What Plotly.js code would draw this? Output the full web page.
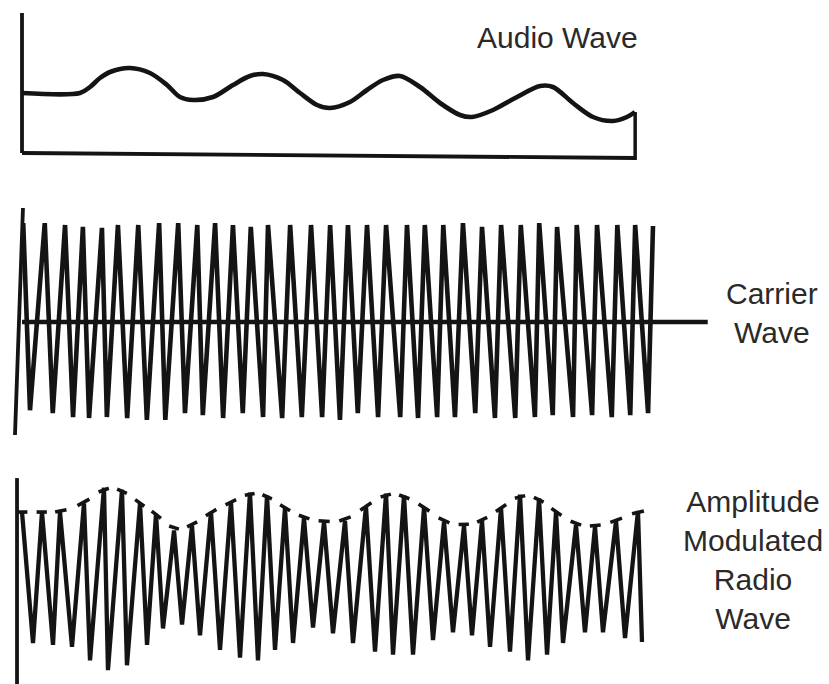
<!DOCTYPE html>
<html>
<head>
<meta charset="utf-8">
<script src="https://cdn.plot.ly/plotly-3.0.1.min.js"></script>
<style>html,body{margin:0;padding:0;background:#fff;}#chart{width:829px;height:684px;}</style>
</head>
<body>
<div id="chart"></div>
<script>
// ---------- DATA (time in arbitrary units, amplitude in arbitrary units) ----------
const audioTime = [0, 9.43, 11.06, 12.68, 14.31, 17.56, 20.81, 23.58, 25.69, 27.80, 31.06, 34.31, 37.07, 39.19, 42.44, 45.20, 47.97, 50.08, 53.33, 56.10, 58.70, 61.46, 64.72, 67.97, 71.22, 73.17, 76.59, 80.49, 84.23, 86.34, 89.59, 92.85, 96.10, 98.37, 99.67];
const audioAmp  = [0, 0, 0.6, 1.5, 2.1, 2.5, 2.0, 0.8, -0.4, -0.7, -0.4, 0.8, 1.7, 1.9, 1.3, 0, -1.2, -1.5, -0.9, 0.3, 1.3, 1.7, 0.6, -1.0, -2.2, -2.4, -1.7, -0.4, 0.7, 0.6, -1.0, -2.4, -2.8, -2.4, -1.9];

const carrierPeakTime = [0.2, 3.7, 7.0, 9.9, 13.0, 15.6, 18.9, 22.3, 25.4, 28.5, 31.4, 34.3, 37.2, 40.0, 43.6, 47.0, 50.1, 53.0, 56.1, 59.2, 62.6, 65.5, 68.5, 71.7, 74.8, 77.9, 81.1, 84.1, 87.0, 90.2, 93.5, 96.8, 99.7, 102.6];
const carrierPeakAmp  = [1.02, 1.02, 1.0, 0.98, 0.97, 1.0, 1.0, 1.02, 1.02, 1.0, 1.02, 1.0, 0.98, 1.0, 1.0, 1.0, 1.0, 1.0, 1.0, 1.0, 1.0, 1.0, 1.0, 1.02, 0.98, 1.0, 1.0, 1.02, 0.98, 1.0, 1.0, 1.0, 1.0, 0.99];
const carrierTroughTime = [1.3, 5.0, 8.3, 10.9, 13.8, 17.1, 20.3, 23.3, 26.5, 29.4, 32.7, 35.9, 39.2, 42.3, 45.5, 48.8, 51.7, 54.6, 57.9, 61.5, 64.4, 67.5, 70.4, 73.7, 76.9, 80.2, 83.4, 86.3, 89.6, 92.7, 95.9, 98.9, 101.8];
const carrierTroughAmp  = [-0.91, -0.94, -0.98, -0.99, -0.98, -0.99, -1.01, -1.01, -0.94, -0.96, -0.99, -0.94, -0.98, -0.99, -0.98, -0.98, -1.01, -0.94, -0.98, -0.98, -0.99, -0.98, -0.98, -0.94, -0.99, -0.99, -0.98, -0.96, -0.98, -0.96, -0.98, -0.96, -0.94];

const amPeakTime = [0.0, 3.25, 6.18, 10.08, 13.33, 16.26, 19.19, 21.79, 24.72, 27.64, 30.73, 33.98, 37.07, 39.84, 42.76, 45.85, 49.11, 52.52, 55.93, 59.19, 62.11, 65.37, 68.62, 71.87, 74.80, 77.89, 80.98, 84.07, 86.83, 90.08, 93.17, 96.59, 100.16];
const amPeakAmp  = [0.68, 0.68, 0.68, 0.77, 0.93, 0.91, 0.77, 0.66, 0.49, 0.54, 0.68, 0.78, 0.88, 0.85, 0.72, 0.62, 0.58, 0.59, 0.74, 0.87, 0.85, 0.73, 0.58, 0.54, 0.59, 0.72, 0.86, 0.82, 0.68, 0.55, 0.53, 0.59, 0.69];
const amTroughTime = [1.79, 5.04, 8.13, 11.06, 13.98, 17.07, 20.33, 22.93, 26.02, 28.94, 32.20, 35.45, 38.37, 41.14, 44.07, 47.32, 50.57, 53.82, 57.40, 60.33, 63.58, 66.83, 70.08, 73.17, 76.10, 79.35, 82.28, 85.37, 87.97, 91.54, 94.47, 98.05, 100.81];
const amTroughAmp  = [-0.67, -0.69, -0.71, -0.85, -0.95, -0.90, -0.69, -0.52, -0.48, -0.59, -0.74, -0.82, -0.85, -0.74, -0.67, -0.51, -0.57, -0.67, -0.76, -0.79, -0.79, -0.64, -0.56, -0.59, -0.71, -0.76, -0.85, -0.79, -0.67, -0.56, -0.56, -0.62, -0.66];

const labelAudio   = 'Audio Wave';
const labelCarrier = 'Carrier<br>Wave';
const labelAM      = 'Amplitude<br>Modulated<br>Radio<br>Wave';

// ---------- BUILD ----------
const INK = '#141414';
function zigzag(pt, pa, tt, ta) {
  const x = [], y = [];
  for (let i = 0; i < pt.length; i++) {
    x.push(pt[i]); y.push(pa[i]);
    if (i < tt.length) { x.push(tt[i]); y.push(ta[i]); }
  }
  return {x, y};
}
function envelopeDashes(pt, pa) {
  const x = [], y = [];
  const f = 0.27;
  for (let i = 0; i < pt.length; i++) {
    const gl = i > 0 ? pt[i] - pt[i-1] : pt[1] - pt[0];
    const gr = i < pt.length - 1 ? pt[i+1] - pt[i] : gl;
    const yl = i > 0 ? pa[i] + (pa[i-1] - pa[i]) * f : pa[i];
    const yr = i < pt.length - 1 ? pa[i] + (pa[i+1] - pa[i]) * f : pa[i];
    x.push(pt[i] - f * gl, pt[i] + f * gr, null);
    y.push(yl, yr, null);
  }
  return {x, y};
}

const car = zigzag(carrierPeakTime, carrierPeakAmp, carrierTroughTime, carrierTroughAmp);
const am  = zigzag(amPeakTime, amPeakAmp, amTroughTime, amTroughAmp);
const env = envelopeDashes(amPeakTime, amPeakAmp);

const traces = [
  {x: audioTime, y: audioAmp, xaxis: 'x', yaxis: 'y', mode: 'lines', line: {color: INK, width: 4.6, shape: 'spline', smoothing: 0.9}, hoverinfo: 'skip'},
  {x: car.x, y: car.y, xaxis: 'x', yaxis: 'y2', mode: 'lines', line: {color: INK, width: 4.6}, hoverinfo: 'skip'},
  {x: am.x, y: am.y, xaxis: 'x', yaxis: 'y3', mode: 'lines', line: {color: INK, width: 4.3}, hoverinfo: 'skip'},
  {x: env.x, y: env.y, xaxis: 'x', yaxis: 'y3', mode: 'lines', line: {color: INK, width: 3.6}, connectgaps: false, hoverinfo: 'skip'}
];

const W = 829, H = 684;
const hidden = {visible: false, showgrid: false, zeroline: false, fixedrange: true};
const line = (xr, yr, x0, y0, x1, y1, w) => ({type: 'line', xref: xr, yref: yr, x0, y0, x1, y1, line: {color: INK, width: w}, layer: 'above'});

const layout = {
  width: W, height: H,
  margin: {l: 0, r: 0, t: 0, b: 0, pad: 0},
  paper_bgcolor: '#ffffff', plot_bgcolor: 'rgba(0,0,0,0)',
  showlegend: false,
  xaxis: Object.assign({}, hidden, {domain: [0, 1], range: [-22/6.15, (W-22)/6.15], anchor: 'y'}),
  yaxis: Object.assign({}, hidden, {domain: [1 - 170/H, 1], range: [-7.7, 9.3], anchor: 'x'}),
  yaxis2: Object.assign({}, hidden, {domain: [1 - 450/H, 1 - 190/H], range: [-1.3196, 1.3608], anchor: 'x'}),
  yaxis3: Object.assign({}, hidden, {domain: [0, 1 - 460/H], range: [-1.0928, 1.2165], anchor: 'x'}),
  shapes: [
    line('x', 'y', 0, 8.0, 0, -6.0, 3.8),
    line('x', 'y', 0, -6.0, 99.7, -6.5, 3.8),
    line('x', 'y', 99.7, -1.9, 99.7, -6.7, 3.5),
    line('x', 'y2', 0.16, 1.175, -1.14, -1.165, 3.8),
    line('x', 'y2', 0, 0, 111.5, 0, 4.5),
    line('x', 'y3', -0.81, 1.03, -0.81, -1.093, 3.8)
  ],
  annotations: [
    {text: labelAudio, xref: 'paper', yref: 'paper', x: 557/W, y: 1 - 37.5/H, xanchor: 'center', yanchor: 'middle', showarrow: false, font: {family: 'Liberation Sans, Arial, sans-serif', size: 30, color: '#2a2a2a'}},
    {text: labelCarrier, xref: 'paper', yref: 'paper', x: 772/W, y: 1 - 312.5/H, xanchor: 'center', yanchor: 'middle', align: 'center', showarrow: false, font: {family: 'Liberation Sans, Arial, sans-serif', size: 30, color: '#2a2a2a'}},
    {text: labelAM, xref: 'paper', yref: 'paper', x: 753/W, y: 1 - 560/H, xanchor: 'center', yanchor: 'middle', align: 'center', showarrow: false, font: {family: 'Liberation Sans, Arial, sans-serif', size: 30, color: '#2a2a2a'}}
  ]
};

Plotly.newPlot('chart', traces, layout, {staticPlot: true, displayModeBar: false});
</script>
</body>
</html>
